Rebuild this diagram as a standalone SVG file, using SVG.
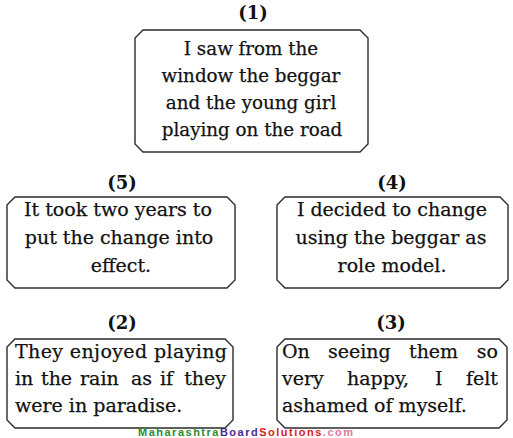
<svg xmlns="http://www.w3.org/2000/svg" width="513" height="438" viewBox="0 0 513 438">
<style>
.box{fill:#fff;stroke:#2b2b2b;stroke-width:1.4}
.t{font-family:"DejaVu Serif","Liberation Serif",serif;font-size:19px;fill:#111;stroke:#111;stroke-width:0.25}
.t1{font-size:18.3px}
.n{font-family:"DejaVu Serif","Liberation Serif",serif;font-size:18px;font-weight:bold;fill:#111;text-anchor:middle}
.c{text-anchor:middle}
.e{text-anchor:end}
.wm{font-family:"Liberation Sans",Arial,sans-serif;font-size:11px;font-weight:bold}
</style>
<rect width="513" height="438" fill="#fff"/>
<g id="connectors"/>
<g id="node1">
<text class="n" x="253" y="19">(1)</text>
<path class="box" d="M143,30 H360 L368,38 V144 L360,152 H143 L135,144 V38 Z"/>
<text class="t t1 c" x="251" y="55">I saw from the</text>
<text class="t t1 c" x="251" y="82">window the beggar</text>
<text class="t t1 c" x="251" y="109">and the young girl</text>
<text class="t t1 c" x="252" y="136">playing on the road</text>
</g>
<g id="node5">
<text class="n" x="122" y="189">(5)</text>
<path class="box" d="M15,197 H227 L235,205 V280 L227,288 H15 L7,280 V205 Z"/>
<text class="t c" x="118" y="216">It took two years to</text>
<text class="t c" x="119" y="244">put the change into</text>
<text class="t c" x="121" y="272">effect.</text>
</g>
<g id="node4">
<text class="n" x="392" y="189">(4)</text>
<path class="box" d="M285,197 H500 L508,205 V280 L500,288 H285 L277,280 V205 Z"/>
<text class="t c" x="392" y="216">I decided to change</text>
<text class="t c" x="391" y="244">using the beggar as</text>
<text class="t c" x="392" y="272">role model.</text>
</g>
<g id="node2">
<text class="n" x="122" y="329">(2)</text>
<path class="box" d="M15,339 H225 L233,347 V420 L225,428 H15 L7,420 V347 Z"/>
<text class="t" x="15" y="358" textLength="212" lengthAdjust="spacing">They enjoyed playing</text>
<text class="t" y="385"><tspan x="15">in</tspan><tspan x="41">the</tspan><tspan x="80">rain</tspan><tspan x="131">as</tspan><tspan x="160">if</tspan><tspan x="226" class="e">they</tspan></text>
<text class="t" x="15" y="412">were in paradise.</text>
</g>
<g id="node3">
<text class="n" x="391" y="329">(3)</text>
<path class="box" d="M285,339 H499 L507,347 V420 L499,428 H285 L277,420 V347 Z"/>
<text class="t" y="358"><tspan x="282">On</tspan><tspan x="328">seeing</tspan><tspan x="409">them</tspan><tspan x="498" class="e">so</tspan></text>
<text class="t" y="385"><tspan x="282">very</tspan><tspan x="347">happy,</tspan><tspan x="435">I</tspan><tspan x="498" class="e">felt</tspan></text>
<text class="t" x="282" y="412">ashamed of myself.</text>
</g>
<text class="wm" x="138" y="436" textLength="215" lengthAdjust="spacing"><tspan fill="#2e8b2e">Maharashtra</tspan><tspan fill="#4b2a8c">Board</tspan><tspan fill="#d81b1b">Solutions</tspan><tspan fill="#e07a9a">.com</tspan></text>
</svg>
